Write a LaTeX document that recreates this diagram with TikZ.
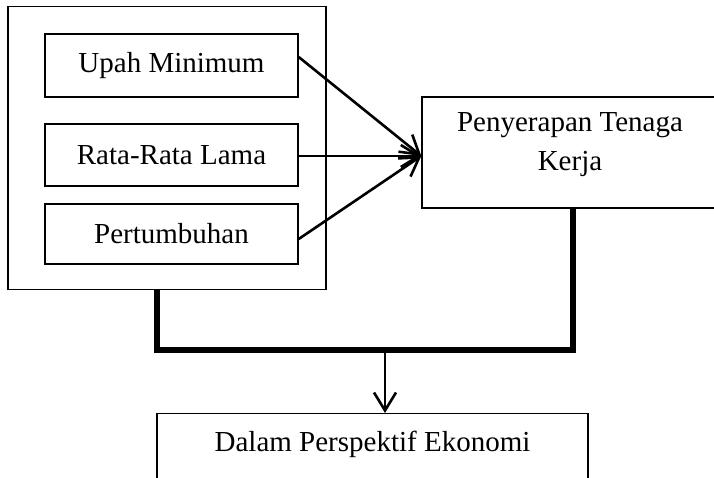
\documentclass[tikz,border=0pt]{standalone}
\usepackage{fontspec}
\setmainfont{Liberation Serif}
\usetikzlibrary{arrows.meta, positioning, calc}

\begin{document}
\begin{tikzpicture}[
      x=1pt, y=-1pt,
      frame/.style={rectangle, draw, line width=1.4pt, inner sep=0pt},
      block/.style={rectangle, draw, line width=1.4pt, inner sep=0pt,
                    minimum width=253pt, align=center},
      arrow/.style={-{Straight Barb[length=18pt, width=22pt, line width=2.6pt]}, line width=2.6pt},
      link/.style={line width=5.5pt, line join=miter},
      every node/.style={font=\fontsize{29}{39}\selectfont}
    ]
    \useasboundingbox (0,0) rectangle (714,477);

    \node[frame, minimum width=318pt, minimum height=283pt] (faktor) at (167,148) {};
    \node[block, minimum height=63pt] (upah) at (171.5,65.5) {Upah Minimum};
    \node[block, minimum height=62pt] (rata) at (171.5,155) {Rata-Rata Lama};
    \node[block, minimum height=60pt] (tumbuh) at (171.5,234) {Pertumbuhan};
    \node[block, minimum width=296pt, minimum height=111pt, text depth=21pt] (serap) at (570,152.5) {Penyerapan Tenaga\\Kerja};
    \node[block, minimum width=431pt, anchor=north, text height=38pt, text depth=40pt] (ekonomi) at (372.5,413) {Dalam Perspektif Ekonomi};

    \coordinate (masuk) at ([yshift=-3.5pt]serap.west);
    \draw[arrow] ([yshift=8.5pt]upah.east) -- (masuk);
    \draw[arrow] (rata.east |- masuk) -- (masuk);
    \draw[arrow] ([yshift=-5pt]tumbuh.east) -- (masuk);

    \coordinate (sambung) at (385,350);
    \draw[link] ([xshift=-10pt]faktor.south) -- ([xshift=-10pt]faktor.south |- sambung)
        -- ([xshift=3pt]serap.south |- sambung) -- ([xshift=3pt]serap.south);
    \draw[arrow] (sambung) -- (sambung |- ekonomi.north);
\end{tikzpicture}
\end{document}
